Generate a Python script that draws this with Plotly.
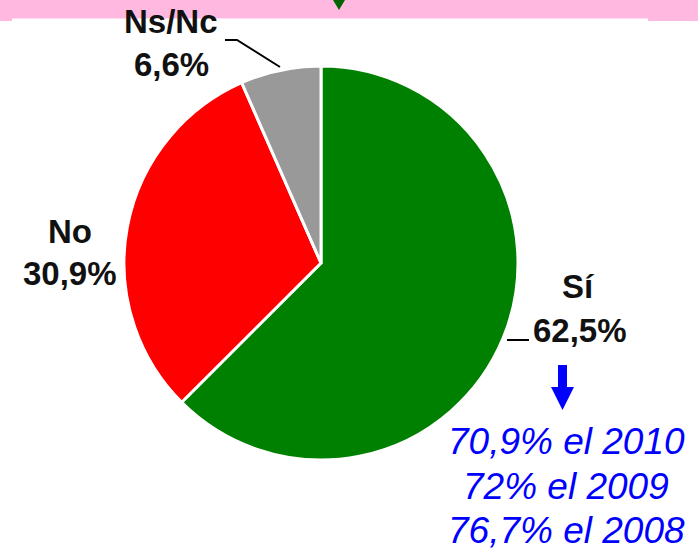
import plotly.graph_objects as go

W, H = 698, 549

labels = ["Sí", "No", "Ns/Nc"]
values = [62.5, 30.9, 6.6]
value_text = ["62,5%", "30,9%", "6,6%"]
colors = ["#008000", "#FF0000", "#999999"]
history = ["70,9% el 2010", "72% el 2009", "76,7% el 2008"]

def px(x):
    return x / W

def py(y):
    return 1 - y / H

cx, cy, r = 321, 263, 197

fig = go.Figure(go.Pie(
    labels=labels, values=values, sort=False, direction="clockwise", rotation=0,
    marker=dict(colors=colors, line=dict(color="white", width=3)),
    textinfo="none", hoverinfo="label+percent", showlegend=False,
    domain=dict(x=[px(cx - r), px(cx + r)], y=[py(cy + r), py(cy - r)]),
))

shapes = []
# pink header band
shapes.append(dict(type="rect", xref="paper", yref="paper", x0=0, x1=1, y0=py(21), y1=1,
                   fillcolor="#FFB8DF", line=dict(width=0), layer="below"))
shapes.append(dict(type="rect", xref="paper", yref="paper", x0=px(12), x1=px(648), y0=py(30), y1=py(18.5),
                   fillcolor="white", line=dict(width=0), layer="below"))
# green triangle in header
shapes.append(dict(type="path", xref="paper", yref="paper",
                   path=f"M {px(333)} {py(0)} L {px(345)} {py(0)} L {px(339)} {py(10)} Z",
                   fillcolor="#006400", line=dict(width=0)))
# leader lines
shapes.append(dict(type="path", xref="paper", yref="paper",
                   path=f"M {px(225)} {py(40)} L {px(237)} {py(40)} L {px(280)} {py(67)}",
                   line=dict(color="black", width=2)))
shapes.append(dict(type="line", xref="paper", yref="paper",
                   x0=px(507), x1=px(529), y0=py(340), y1=py(340),
                   line=dict(color="black", width=2)))
# blue down arrow
shapes.append(dict(type="path", xref="paper", yref="paper",
                   path=(f"M {px(558)} {py(365)} L {px(567)} {py(365)} L {px(567)} {py(387)} "
                         f"L {px(574)} {py(387)} L {px(562.5)} {py(410)} L {px(551)} {py(387)} "
                         f"L {px(558)} {py(387)} Z"),
                   fillcolor="#0000FF", line=dict(width=0)))

lab_font = dict(family="Liberation Sans, Arial, sans-serif", size=33, color="#111111")
ann = []
def label(x, y, text, font, h=None):
    a = dict(xref="paper", yref="paper", x=px(x), y=py(y), text=text, showarrow=False,
             xanchor="center", yanchor="middle", font=font)
    if h:
        a["height"] = h
    ann.append(a)

label(171, 21, "<b>" + labels[2] + "</b>", lab_font)
label(171, 64, "<b>" + value_text[2] + "</b>", lab_font)
label(70, 232, "<b>" + labels[1] + "</b>", lab_font)
label(70, 273, "<b>" + value_text[1] + "</b>", lab_font)
label(578, 286, "<b>" + labels[0] + "</b>", lab_font)
label(580, 330, "<b>" + value_text[0] + "</b>", lab_font)

blue_font = dict(family="Liberation Sans, Arial, sans-serif", size=37, color="#0000FF")
for i, t in enumerate(history):
    label(566, 441 + 44.5 * i, "<i>" + t + "</i>", blue_font, h=38)

fig.update_layout(width=W, height=H, margin=dict(l=0, r=0, t=0, b=0),
                  paper_bgcolor="white", plot_bgcolor="white",
                  shapes=shapes, annotations=ann)
fig.write_html("out.html", config={"displayModeBar": False},
               post_script="document.body.style.margin='0';document.body.style.overflow='hidden';")
